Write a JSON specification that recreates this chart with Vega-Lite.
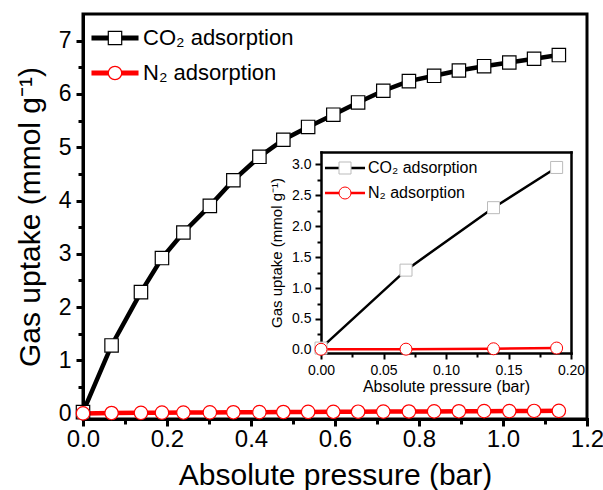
{
  "$schema": "https://vega.github.io/schema/vega-lite/v6.json",
  "width": 504,
  "height": 405,
  "autosize": {"type": "none"},
  "padding": {"left": 83, "top": 14, "right": 16, "bottom": 71},
  "background": "white",
  "datasets": {
    "main": [
      {"pressure": 0, "uptake": 0.03, "series": "CO₂ adsorption"},
      {"pressure": 0.068, "uptake": 1.28, "series": "CO₂ adsorption"},
      {"pressure": 0.138, "uptake": 2.28, "series": "CO₂ adsorption"},
      {"pressure": 0.188, "uptake": 2.92, "series": "CO₂ adsorption"},
      {"pressure": 0.239, "uptake": 3.4, "series": "CO₂ adsorption"},
      {"pressure": 0.302, "uptake": 3.9, "series": "CO₂ adsorption"},
      {"pressure": 0.358, "uptake": 4.38, "series": "CO₂ adsorption"},
      {"pressure": 0.42, "uptake": 4.82, "series": "CO₂ adsorption"},
      {"pressure": 0.477, "uptake": 5.14, "series": "CO₂ adsorption"},
      {"pressure": 0.536, "uptake": 5.38, "series": "CO₂ adsorption"},
      {"pressure": 0.596, "uptake": 5.61, "series": "CO₂ adsorption"},
      {"pressure": 0.655, "uptake": 5.84, "series": "CO₂ adsorption"},
      {"pressure": 0.715, "uptake": 6.06, "series": "CO₂ adsorption"},
      {"pressure": 0.776, "uptake": 6.24, "series": "CO₂ adsorption"},
      {"pressure": 0.836, "uptake": 6.34, "series": "CO₂ adsorption"},
      {"pressure": 0.895, "uptake": 6.44, "series": "CO₂ adsorption"},
      {"pressure": 0.955, "uptake": 6.52, "series": "CO₂ adsorption"},
      {"pressure": 1.015, "uptake": 6.59, "series": "CO₂ adsorption"},
      {"pressure": 1.074, "uptake": 6.66, "series": "CO₂ adsorption"},
      {"pressure": 1.133, "uptake": 6.73, "series": "CO₂ adsorption"},
      {"pressure": 0, "uptake": 0.005, "series": "N₂ adsorption"},
      {"pressure": 0.068, "uptake": 0.012, "series": "N₂ adsorption"},
      {"pressure": 0.138, "uptake": 0.016, "series": "N₂ adsorption"},
      {"pressure": 0.188, "uptake": 0.019, "series": "N₂ adsorption"},
      {"pressure": 0.239, "uptake": 0.021, "series": "N₂ adsorption"},
      {"pressure": 0.302, "uptake": 0.024, "series": "N₂ adsorption"},
      {"pressure": 0.358, "uptake": 0.026, "series": "N₂ adsorption"},
      {"pressure": 0.42, "uptake": 0.029, "series": "N₂ adsorption"},
      {"pressure": 0.477, "uptake": 0.031, "series": "N₂ adsorption"},
      {"pressure": 0.536, "uptake": 0.033, "series": "N₂ adsorption"},
      {"pressure": 0.596, "uptake": 0.035, "series": "N₂ adsorption"},
      {"pressure": 0.655, "uptake": 0.037, "series": "N₂ adsorption"},
      {"pressure": 0.715, "uptake": 0.039, "series": "N₂ adsorption"},
      {"pressure": 0.776, "uptake": 0.041, "series": "N₂ adsorption"},
      {"pressure": 0.836, "uptake": 0.043, "series": "N₂ adsorption"},
      {"pressure": 0.895, "uptake": 0.045, "series": "N₂ adsorption"},
      {"pressure": 0.955, "uptake": 0.047, "series": "N₂ adsorption"},
      {"pressure": 1.015, "uptake": 0.049, "series": "N₂ adsorption"},
      {"pressure": 1.074, "uptake": 0.051, "series": "N₂ adsorption"},
      {"pressure": 1.133, "uptake": 0.053, "series": "N₂ adsorption"}
    ],
    "inset": [
      {"pressure": 0, "uptake": 0.03, "series": "CO₂ adsorption"},
      {"pressure": 0.068, "uptake": 1.29, "series": "CO₂ adsorption"},
      {"pressure": 0.138, "uptake": 2.3, "series": "CO₂ adsorption"},
      {"pressure": 0.1885, "uptake": 2.95, "series": "CO₂ adsorption"},
      {"pressure": 0, "uptake": 0.01, "series": "N₂ adsorption"},
      {"pressure": 0.068, "uptake": 0.012, "series": "N₂ adsorption"},
      {"pressure": 0.138, "uptake": 0.018, "series": "N₂ adsorption"},
      {"pressure": 0.1885, "uptake": 0.03, "series": "N₂ adsorption"}
    ]
  },
  "config": {
    "view": {"stroke": "black", "strokeWidth": 3},
    "font": "Liberation Sans",
    "axis": {
      "domainColor": "black", "tickColor": "black", "labelColor": "black", "titleColor": "black",
      "grid": false, "labelFont": "Liberation Sans", "titleFont": "Liberation Sans",
      "titleFontWeight": "normal", "labelFlush": false, "labelOverlap": false, "labelBound": false, "domainCap": "square"
    },
    "legend": {"labelFont": "Liberation Sans", "labelColor": "black", "labelLimit": 400, "padding": 0}
  },
  "resolve": {
    "scale": {"x": "independent", "y": "independent", "color": "independent", "stroke": "independent", "shape": "independent"}
  },
  "layer": [
    {
      "data": {"name": "main"},
      "resolve": {"axis": {"x": "independent", "y": "independent"}},
      "layer": [
        {
          "mark": {"type": "line", "strokeWidth": 4.5},
          "encoding": {
            "x": {"field": "pressure", "type": "quantitative", "scale": {"domain": [0, 1.2], "nice": false, "zero": false},
              "axis": {"orient": "bottom", "values": [0, 0.2, 0.4, 0.6, 0.8, 1, 1.2], "format": ".1f", "title": "Absolute pressure (bar)",
                "titleFontSize": 30, "titlePadding": 9, "labelFontSize": 24, "labelPadding": 1, "tickSize": 7, "tickWidth": 3, "domainWidth": 3}},
            "y": {"field": "uptake", "type": "quantitative", "scale": {"domain": [-0.1, 7.5], "nice": false, "zero": false},
              "axis": {"orient": "left", "values": [0, 1, 2, 3, 4, 5, 6, 7], "format": "d", "title": "Gas uptake (mmol g⁻¹)",
                "titleFontSize": 30, "titlePadding": 13, "labelFontSize": 23, "labelPadding": 5, "tickSize": 7, "tickWidth": 3, "domainWidth": 3}},
            "color": {"field": "series", "type": "nominal",
              "scale": {"domain": ["CO₂ adsorption", "N₂ adsorption"], "range": ["black", "#ff0000"]},
              "legend": {"orient": "none", "legendX": 21, "legendY": 13, "title": null, "symbolType": "M-3,0H3", "symbolSize": 246,
                "symbolStrokeWidth": 5, "labelFontSize": 22, "labelOffset": 17, "rowPadding": 13, "zindex": 1}}
          }
        },
        {
          "mark": {"type": "point", "filled": true, "fill": "white", "size": 180, "strokeWidth": 1.2, "opacity": 1},
          "encoding": {
            "x": {"field": "pressure", "type": "quantitative", "scale": {"domain": [0, 1.2], "nice": false, "zero": false},
              "axis": {"orient": "bottom", "values": [0.1, 0.3, 0.5, 0.7, 0.9, 1.1], "labels": false, "domain": false, "title": null, "tickSize": 5, "tickWidth": 3}},
            "y": {"field": "uptake", "type": "quantitative", "scale": {"domain": [-0.1, 7.5], "nice": false, "zero": false},
              "axis": {"orient": "left", "values": [0.5, 1.5, 2.5, 3.5, 4.5, 5.5, 6.5], "labels": false, "domain": false, "title": null, "tickSize": 5, "tickWidth": 3}},
            "stroke": {"field": "series", "type": "nominal", "scale": {"range": ["black", "#ff0000"]},
              "legend": {"orient": "none", "legendX": 21, "legendY": 13, "title": null, "symbolSize": 180, "symbolStrokeWidth": 1.2,
                "symbolFillColor": "white", "labelFontSize": 22, "labelOffset": 17, "labelOpacity": 0, "rowPadding": 13, "zindex": 2}},
            "shape": {"field": "series", "type": "nominal", "scale": {"range": ["square", "circle"]},
              "legend": {"orient": "none", "legendX": 21, "legendY": 13, "title": null, "symbolSize": 180, "symbolStrokeWidth": 1.2,
                "symbolFillColor": "white", "labelFontSize": 22, "labelOffset": 17, "labelOpacity": 0, "rowPadding": 13, "zindex": 2}}
          }
        }
      ]
    },
    {
      "data": {"name": "inset"},
      "resolve": {"axis": {"x": "independent", "y": "independent"}},
      "layer": [
        {
          "mark": {"type": "line", "strokeWidth": 2.5},
          "encoding": {
            "x": {"field": "pressure", "type": "quantitative", "scale": {"domain": [0, 0.2], "range": [238, 488], "nice": false, "zero": false},
              "axis": {"orient": "bottom", "offset": -66, "values": [0, 0.05, 0.1, 0.15, 0.2], "format": ".2f", "title": "Absolute pressure (bar)",
                "titleFontSize": 16, "titlePadding": 1, "labelFontSize": 14, "labelPadding": 4, "tickSize": 6, "tickWidth": 2, "domainWidth": 2.5}},
            "y": {"field": "uptake", "type": "quantitative", "scale": {"domain": [-0.05, 3.2], "range": [339, 138], "nice": false, "zero": false},
              "axis": {"orient": "left", "offset": -238, "values": [0, 0.5, 1, 1.5, 2, 2.5, 3], "format": ".1f", "title": "Gas uptake (mmol g⁻¹)",
                "titleFontSize": 15, "titlePadding": 7, "labelFontSize": 14, "labelPadding": 4, "tickSize": 6, "tickWidth": 2, "domainWidth": 2.5}},
            "color": {"field": "series", "type": "nominal",
              "scale": {"domain": ["CO₂ adsorption", "N₂ adsorption"], "range": ["black", "#ff0000"]},
              "legend": {"orient": "none", "legendX": 254, "legendY": 146, "title": null, "symbolType": "M-3,0H3", "symbolSize": 178,
                "symbolStrokeWidth": 2.5, "labelFontSize": 16, "labelOffset": 15, "rowPadding": 9, "zindex": 1}}
          }
        },
        {
          "mark": {"type": "point", "filled": true, "fill": "white", "size": 144, "strokeWidth": 1, "opacity": 1},
          "encoding": {
            "x": {"field": "pressure", "type": "quantitative", "scale": {"domain": [0, 0.2], "range": [238, 488], "nice": false, "zero": false},
              "axis": {"orient": "bottom", "offset": -66, "values": [0.025, 0.075, 0.125, 0.175], "labels": false, "domain": false, "title": null, "tickSize": 4, "tickWidth": 2}},
            "y": {"field": "uptake", "type": "quantitative", "scale": {"domain": [-0.05, 3.2], "range": [339, 138], "nice": false, "zero": false},
              "axis": {"orient": "left", "offset": -238, "values": [0.25, 0.75, 1.25, 1.75, 2.25, 2.75], "labels": false, "domain": false, "title": null, "tickSize": 4, "tickWidth": 2}},
            "stroke": {"field": "series", "type": "nominal", "scale": {"range": ["#bbbbbb", "#ff0000"]},
              "legend": {"orient": "none", "legendX": 254, "legendY": 146, "title": null, "symbolSize": 144, "symbolStrokeWidth": 1,
                "symbolFillColor": "white", "labelFontSize": 16, "labelOffset": 15, "labelOpacity": 0, "rowPadding": 9, "zindex": 2}},
            "shape": {"field": "series", "type": "nominal", "scale": {"range": ["square", "circle"]},
              "legend": {"orient": "none", "legendX": 254, "legendY": 146, "title": null, "symbolSize": 144, "symbolStrokeWidth": 1,
                "symbolFillColor": "white", "labelFontSize": 16, "labelOffset": 15, "labelOpacity": 0, "rowPadding": 9, "zindex": 2}}
          }
        },
        {
          "mark": {"type": "point", "opacity": 0},
          "encoding": {
            "x": {"field": "pressure", "type": "quantitative", "scale": {"domain": [0, 0.2], "range": [238, 488], "nice": false, "zero": false},
              "axis": {"orient": "top", "offset": -138, "labels": false, "ticks": false, "title": null, "domainWidth": 2.5}},
            "y": {"field": "uptake", "type": "quantitative", "scale": {"domain": [-0.05, 3.2], "range": [339, 138], "nice": false, "zero": false},
              "axis": {"orient": "right", "offset": -16, "labels": false, "ticks": false, "title": null, "domainWidth": 2.5}}
          }
        }
      ]
    }
  ]
}
